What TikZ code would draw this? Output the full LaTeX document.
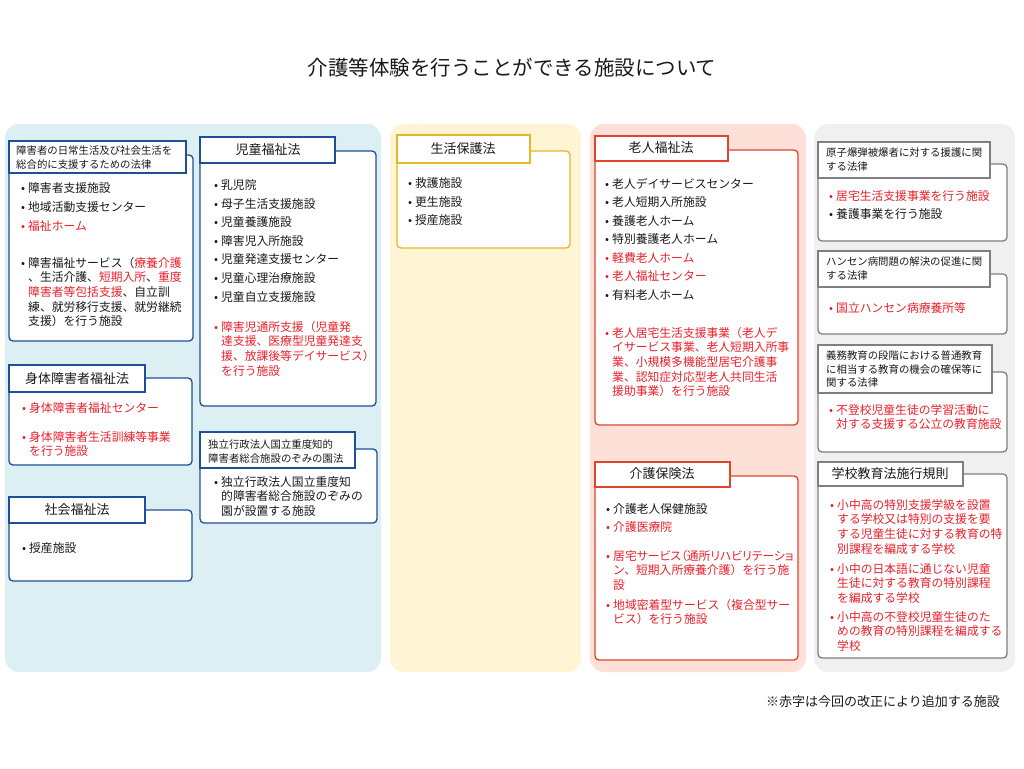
\documentclass[tikz,border=0pt]{standalone}
\usepackage{fontspec}
\setmainfont{Noto Sans CJK JP}
\definecolor{txt}{HTML}{1A1A1A}
\definecolor{redT}{HTML}{E8212B}
\definecolor{bluePanel}{HTML}{DCEFF3}
\definecolor{yellowPanel}{HTML}{FFF4D4}
\definecolor{pinkPanel}{HTML}{FDE1D8}
\definecolor{grayPanel}{HTML}{F0F0F0}
\definecolor{blueB}{HTML}{1F4E9B}
\definecolor{yellowB}{HTML}{E5B82A}
\definecolor{redB}{HTML}{E0452C}
\definecolor{grayB}{HTML}{7F7F7F}
\newcommand{\bl}[1]{\begin{tabular}[t]{@{}l@{}l@{}}\makebox[10pt]{•}&#1\end{tabular}}
\newcommand{\hl}[1]{\begin{tabular}[t]{@{}l@{}}#1\end{tabular}}
\newcommand{\rd}[1]{\textcolor{redT}{#1}}
\newcommand{\prop}[1]{{\addfontfeature{RawFeature=+palt}#1}}
\tikzset{
  panel/.style={rounded corners=14pt, draw=none},
  body/.style={rounded corners=4pt, fill=white, line width=1.3pt},
  hdr/.style={fill=white, line width=1.3pt},
  it/.style={anchor=base west, inner sep=0pt, yshift=-4.3pt, font=\fontsize{11.8}{14.6}\selectfont, text=txt},
  itr/.style={it, text=redT},
  hd/.style={inner sep=0pt, font=\fontsize{13}{15}\selectfont, text=txt},
  hds/.style={anchor=base west, inner sep=0pt, yshift=-3.8pt, font=\fontsize{10.4}{13.4}\selectfont, text=txt},
}
\begin{document}
\begin{tikzpicture}[x=1pt,y=-1pt]
\useasboundingbox (0,0) rectangle (1024,768);
\fill[white] (0,0) rectangle (1024,768);
% title
\node[inner sep=0pt, font=\fontsize{20.5}{24}\selectfont, text=txt] (title) at (512,68) {介護等体験を行うことができる施設について};
% panels
\fill[panel, fill=bluePanel] (5,124) rectangle (381,672);
\fill[panel, fill=yellowPanel] (390,124) rectangle (581,672);
\fill[panel, fill=pinkPanel] (590,124) rectangle (806,672);
\fill[panel, fill=grayPanel] (814,124) rectangle (1015,672);

% ---- Box A
\draw[body, draw=blueB] (9,155) rectangle (193,341);
\draw[hdr, draw=blueB] (9,141) rectangle (186,173);
\node[hds] (ah) at (16,151) {\hl{障害者の日常生活及び社会生活を\\総合的に支援するための法律}};
\node[it] (a1) at (18,188) {\bl{障害者支援施設}};
\node[it] (a2) at (18,207) {\bl{地域活動支援センター}};
\node[itr] (a3) at (18,226) {\bl{福祉ホーム}};
\node[it] (a4) at (18,263) {\bl{障害福祉サービス（\rd{療養介護}\\&、生活介護、\rd{短期入所}、\rd{重度}\\&\rd{障害者等包括支援}、自立訓\\&練、就労移行支援、就労継続\\&支援）を行う施設}};

% ---- Box B
\draw[body, draw=blueB] (9,378) rectangle (192,465);
\draw[hdr, draw=blueB] (9,365) rectangle (145,392);
\node[hd] (bh) at (77,379) {身体障害者福祉法};
\node[itr] (b1) at (19,408) {\bl{身体障害者福祉センター}};
\node[itr] (b2) at (19,437) {\bl{身体障害者生活訓練等事業\\&を行う施設}};

% ---- Box C
\draw[body, draw=blueB] (9,510) rectangle (192,581);
\draw[hdr, draw=blueB] (9,497) rectangle (145,523);
\node[hd] (ch) at (77,510) {社会福祉法};
\node[it] (c1) at (19,548) {\bl{授産施設}};

% ---- Box D
\draw[body, draw=blueB] (200,151) rectangle (376,406);
\draw[hdr, draw=blueB] (200,137) rectangle (335,163);
\node[hd] (dh) at (268,150) {児童福祉法};
\node[it] (d1) at (211,185) {\bl{乳児院}};
\node[it] (d2) at (211,204) {\bl{母子生活支援施設}};
\node[it] (d3) at (211,222) {\bl{児童養護施設}};
\node[it] (d4) at (211,241) {\bl{障害児入所施設}};
\node[it] (d5) at (211,259) {\bl{児童発達支援センター}};
\node[it] (d6) at (211,278) {\bl{児童心理治療施設}};
\node[it] (d7) at (211,297) {\bl{児童自立支援施設}};
\node[itr] (d8) at (211,327) {\bl{障害児通所支援（児童発\\&達支援、医療型児童発達支\\&援、放課後等デイサービス）\\&を行う施設}};

% ---- Box E
\draw[body, draw=blueB] (200,449) rectangle (377,523);
\draw[hdr, draw=blueB] (200,432) rectangle (355,468);
\node[hds] (eh) at (208,445) {\hl{独立行政法人国立重度知的\\障害者総合施設のぞみの園法}};
\node[it] (e1) at (211,482) {\bl{独立行政法人国立重度知\\&的障害者総合施設のぞみの\\&園が設置する施設}};

% ---- Box F
\draw[body, draw=yellowB] (397,151) rectangle (570,248);
\draw[hdr, draw=yellowB] (397,135) rectangle (530,163);
\node[hd] (fh) at (463,149) {生活保護法};
\node[it] (f1) at (405,183) {\bl{救護施設}};
\node[it] (f2) at (405,202) {\bl{更生施設}};
\node[it] (f3) at (405,220) {\bl{授産施設}};

% ---- Box G
\draw[body, draw=redB] (595,150) rectangle (798,425);
\draw[hdr, draw=redB] (595,136) rectangle (728,161);
\node[hd] (gh) at (661,148) {老人福祉法};
\node[it] (g1) at (602,184) {\bl{老人デイサービスセンター}};
\node[it] (g2) at (602,202) {\bl{老人短期入所施設}};
\node[it] (g3) at (602,221) {\bl{養護老人ホーム}};
\node[it] (g4) at (602,239) {\bl{特別養護老人ホーム}};
\node[itr] (g5) at (602,258) {\bl{軽費老人ホーム}};
\node[itr] (g6) at (602,276) {\bl{老人福祉センター}};
\node[it] (g7) at (602,295) {\bl{有料老人ホーム}};
\node[itr] (g8) at (602,333) {\bl{老人居宅生活支援事業（老人デ\\&イサービス事業、老人短期入所事\\&業、小規模多機能型居宅介護事\\&業、認知症対応型老人共同生活\\&援助事業）を行う施設}};

% ---- Box H
\draw[body, draw=redB] (595,476) rectangle (798,660);
\draw[hdr, draw=redB] (595,462) rectangle (730,487);
\node[hd] (hh) at (662,474) {介護保険法};
\node[it] (h1) at (603,509) {\bl{介護老人保健施設}};
\node[itr] (h2) at (603,527) {\bl{介護医療院}};
\node[itr] (h3) at (603,556) {\bl{\prop{居宅サービス（通所リハビリテーショ}\\&ン、短期入所療養介護）を行う施\\&設}};
\node[itr] (h4) at (603,605) {\bl{地域密着型サービス（複合型サー\\&ビス）を行う施設}};

% ---- Box I
\draw[body, draw=grayB] (818,164) rectangle (1007,241);
\draw[hdr, draw=grayB] (818,142) rectangle (990,178);
\node[hds] (ih) at (826,153) {\hl{原子爆弾被爆者に対する援護に関\\する法律}};
\node[itr] (i1) at (826,196) {\bl{居宅生活支援事業を行う施設}};
\node[it] (i2) at (826,214) {\bl{養護事業を行う施設}};

% ---- Box J
\draw[body, draw=grayB] (818,274) rectangle (1007,334);
\draw[hdr, draw=grayB] (818,251) rectangle (990,287);
\node[hds] (jh) at (826,262) {\hl{ハンセン病問題の解決の促進に関\\する法律}};
\node[itr] (j1) at (826,308) {\bl{国立ハンセン病療養所等}};

% ---- Box K
\draw[body, draw=grayB] (818,372) rectangle (1007,452);
\draw[hdr, draw=grayB] (818,345) rectangle (992,393);
\node[hds] (kh) at (826,356) {\hl{義務教育の段階における普通教育\\に相当する教育の機会の確保等に\\関する法律}};
\node[itr] (k1) at (826,410) {\bl{不登校児童生徒の学習活動に\\&対する支援する公立の教育施設}};

% ---- Box L
\draw[body, draw=grayB] (818,474) rectangle (1007,658);
\draw[hdr, draw=grayB] (818,462) rectangle (963,486);
\node[hd] (lh) at (890,474) {学校教育法施行規則};
\node[itr] (l1) at (827,505) {\bl{小中高の特別支援学級を設置\\&する学校又は特別の支援を要\\&する児童生徒に対する教育の特\\&別課程を編成する学校}};
\node[itr] (l2) at (827,569) {\bl{小中の日本語に通じない児童\\&生徒に対する教育の特別課程\\&を編成する学校}};
\node[itr] (l3) at (827,617) {\bl{小中高の不登校児童生徒のた\\&めの教育の特別課程を編成する\\&学校}};

% footer
\node[anchor=east, inner sep=0pt, font=\fontsize{13}{15}\selectfont, text=txt] (note) at (1000,702) {※赤字は今回の改正により追加する施設};
\end{tikzpicture}
\end{document}
